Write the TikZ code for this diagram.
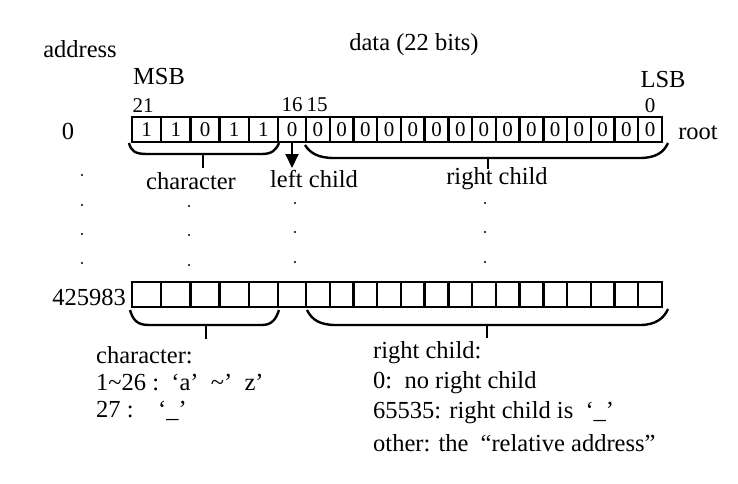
\documentclass[tikz,border=0pt]{standalone}
\usepackage{fontspec}
\setmainfont{Liberation Serif}
\usetikzlibrary{arrows.meta}
\begin{document}
\begin{tikzpicture}[x=1pt,y=-1pt,
  cell/.style={draw,line width=2.4pt,inner sep=0pt,outer sep=0pt,minimum height=25pt,font=\fontsize{21}{21}\selectfont},
  lbl/.style={inner sep=0pt,font=\fontsize{24.5}{24.5}\selectfont},
  small/.style={inner sep=0pt,font=\fontsize{21}{21}\selectfont},
  pt/.style={circle,fill,inner sep=0pt,minimum size=2.4pt},
  brace/.style={line width=2.4pt}]
\useasboundingbox (0,0) rectangle (738,483);

% top row
\foreach \v [count=\i] in {1,1,0,1,1} {
  \node[cell,minimum width=29.2pt] (t\i) at ({132+29.2*(\i-0.5)},129.5) {\v};
}
\node[cell,minimum width=28pt] (t6) at (292,129.5) {0};
\foreach \i in {7,...,21} {
  \node[cell,minimum width=23.73pt] (t\i) at ({306+23.73*(\i-6.5)},129.5) {0};
}
% bottom row
\foreach \i in {1,...,5} {
  \node[cell,minimum width=29.2pt] (b\i) at ({132+29.2*(\i-0.5)},294.5) {};
}
\node[cell,minimum width=28pt] (b6) at (292,294.5) {};
\foreach \i in {7,...,21} {
  \node[cell,minimum width=23.73pt] (b\i) at ({306+23.73*(\i-6.5)},294.5) {};
}

% headings
\node[lbl] (addr) at (80,49) {address};
\node[lbl] (data) at (414,45) {data (22 bits)};
\node[lbl] (msb) at (159,77) {MSB};
\node[lbl] (lsb) at (663,80) {LSB};
\node[small] (n21) at (143,106) {21};
\node[small] (n16) at (292,105) {16};
\node[small] (n15) at (317,105) {15};
\node[small] (n0) at (650,106) {0};
\node[lbl] (a0) at (68,131) {0};
\node[lbl] (root) at (698,133) {root};
\node[lbl,anchor=east] (a1) at (126,297) {425983};

% top braces
\draw[brace] (129,143) .. controls (131,151) and (135,154) .. (147,154) -- (262,154) .. controls (272,154) and (276,150) .. (279,143);
\draw[brace] (203,154) -- (203,168);
\draw[brace] (305,145) .. controls (310,153) and (318,158) .. (334,158) -- (640,158) .. controls (656,158) and (664,152) .. (668,143);
\draw[brace] (488,158) -- (488,169);
\coordinate (lcend) at (292,168);
\draw[line width=2pt,-{Triangle[length=14pt,width=13pt]}] (t6.south) -- (lcend);

\node[lbl] (ch) at (191,181) {character};
\node[lbl] (lc) at (314,179) {left child};
\node[lbl] (rc) at (497,179) {right child};

% dots
\foreach \y [count=\k] in {175,205,234,263} { \node[pt] (da\k) at (82,\y) {}; }
\foreach \y [count=\k] in {206,235,265} { \node[pt] (dc\k) at (189,\y) {}; }
\foreach \y [count=\k] in {203,232,262} { \node[pt] (dl\k) at (295,\y) {}; }
\foreach \y [count=\k] in {203,232,262} { \node[pt] (dr\k) at (485,\y) {}; }

% bottom braces
\draw[brace] (130,310) .. controls (133,320) and (137,325) .. (149,325) -- (262,325) .. controls (272,325) and (276,319) .. (279,310);
\draw[brace] (206,325) -- (206,339);
\draw[brace] (307,310) .. controls (312,320) and (320,325) .. (336,325) -- (640,325) .. controls (656,325) and (664,318) .. (668,309);
\draw[brace] (487,325) -- (487,338);

% explanations
\node[lbl,anchor=west] (c1) at (96,355) {character:};
\node[lbl,anchor=west] (c2) at (96,383) {1\textasciitilde26 :\enspace ‘a’\enspace\textasciitilde’\enspace z’};
\node[lbl,anchor=west] (c3) at (96,411) {27 :\enspace\enspace ‘\_’};
\node[lbl,anchor=west] (r1) at (373,353) {right child:};
\node[lbl,anchor=west] (r2) at (373,383) {0:\enspace no right child};
\node[lbl,anchor=west] (r3) at (373,413) {65535: right child is\enspace ‘\_’};
\node[lbl,anchor=west] (r4) at (373,443) {other: the\enspace “relative address”};
\end{tikzpicture}
\end{document}
